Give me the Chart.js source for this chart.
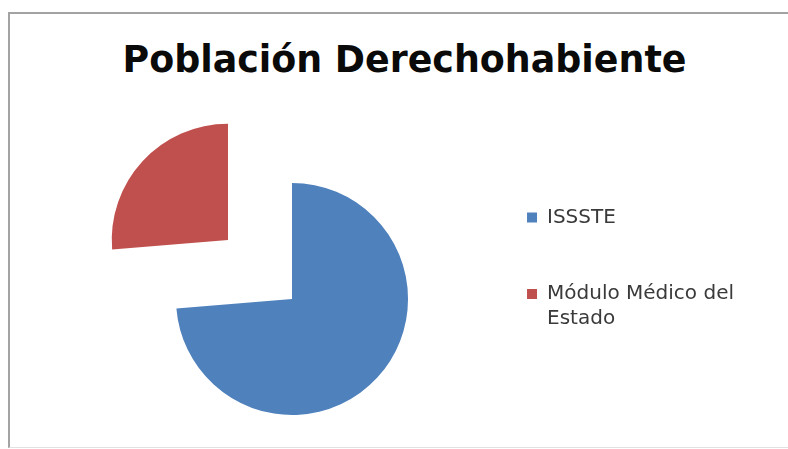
<!DOCTYPE html>
<html>
<head>
<meta charset="utf-8">
<script src="https://cdn.jsdelivr.net/npm/chart.js@4"></script>
<style>
  body { margin: 0; background: #fff; }
  #wrap { position: relative; width: 788px; height: 449px; overflow: hidden; }
  #frame { position: absolute; left: 8px; top: 12px; width: 820px; height: 433px;
           border: 2px solid #a3a3a3; border-bottom: 1px solid #e2e2e2; }
  #title { position: absolute; left: 0; top: 42px; width: 809px; text-align: center;
           font: bold 36.4px "DejaVu Sans"; line-height: 36px; color: #0a0a0a; }
  canvas { position: absolute; left: 0; top: 0; }
</style>
</head>
<body>
<div id="wrap">
  <div id="frame"></div>
  <div id="title">Población Derechohabiente</div>
  <canvas id="myChart" width="788" height="449"></canvas>
</div>
<script>
// data (share of the pie, %)
const categories = ['ISSSTE', 'Módulo Médico del Estado'];
const shares = [73.7, 26.3];
const sliceColors = ['#4F81BD', '#C0504D'];

// break long legend labels onto two lines, like the original
function wrapLabel(text, maxChars) {
    if (text.length <= maxChars) return text;
    const words = text.split(' ');
    const lines = [];
    let line = '';
    words.forEach(w => {
        if (line && (line + ' ' + w).length > maxChars) {
            lines.push(line);
            line = w;
        } else {
            line = line ? line + ' ' + w : w;
        }
    });
    lines.push(line);
    return lines;
}

const ctx = document.getElementById('myChart').getContext('2d');
const myChart = new Chart(ctx, {
    type: 'pie',
    data: {
        labels: categories,
        datasets: [{
            data: shares,
            backgroundColor: sliceColors,
            borderWidth: 0,
            // chart.js moves an arc by offset / 4
            offset: [0, 348]
        }]
    },
    options: {
        responsive: false,
        animation: false,
        radius: 116,
        cutout: '0%', // as a string, so a big offset does not turn it into NaN
        layout: {
            padding: { top: 151, bottom: 2, left: 113.5, right: 44 }
        },
        plugins: {
            tooltip: { enabled: false },
            legend: {
                position: 'right',
                align: 'start',
                labels: {
                    boxWidth: 10,
                    boxHeight: 10,
                    padding: 56.5,
                    color: '#3a3a3a',
                    font: { family: 'DejaVu Sans', size: 20, lineHeight: 1.25 },
                    generateLabels: chart => {
                        const items = Chart.overrides.pie.plugins.legend.labels.generateLabels(chart);
                        items.forEach(item => { item.text = wrapLabel(item.text, 18); });
                        return items;
                    }
                }
            }
        }
    }
});
</script>
</body>
</html>
